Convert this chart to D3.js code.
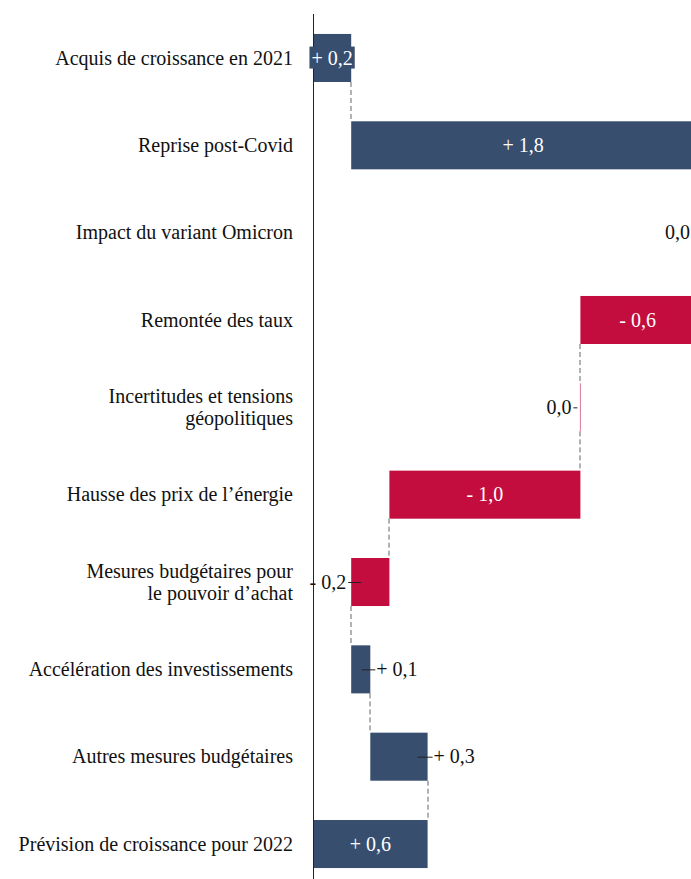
<!DOCTYPE html>
<html><head><meta charset="utf-8">
<script src="https://cdn.jsdelivr.net/npm/d3@7"></script>
<style>
html,body{margin:0;padding:0;background:#fff;}
svg{display:block;}
</style></head>
<body>
<svg id="chart" width="691" height="879"></svg>
<script>
// ---- data ----
const categories = [
  "Acquis de croissance en 2021",
  "Reprise post-Covid",
  "Impact du variant Omicron",
  "Remontée des taux",
  "Incertitudes et tensions|géopolitiques",
  "Hausse des prix de l’énergie",
  "Mesures budgétaires pour|le pouvoir d’achat",
  "Accélération des investissements",
  "Autres mesures budgétaires",
  "Prévision de croissance pour 2022"
];
const values = [0.2, 1.8, 0.0, -0.6, 0.0, -1.0, -0.2, 0.1, 0.3, 0.6];
const isTotal = [false, false, false, false, false, false, false, false, false, true];
const labelPos = ["in", "in", "end", "in", "start", "in", "start", "end", "end", "in"];

// ---- layout ----
const svg = d3.select("#chart");
const fontFam = "'Liberation Serif','DejaVu Serif',serif";
const navy = "#374e6f", red = "#c30d3e";
const fs = 20;

const x = d3.scaleLinear().domain([0, 2]).range([313, 695]);
const y = d3.scaleBand().domain(d3.range(categories.length))
  .range([14.3, 887.7]).paddingInner(0.45).paddingOuter(0.225);

// compute waterfall
let cum = 0;
const bars = values.map((v, i) => {
  let start, end;
  if (isTotal[i]) { start = 0; end = v; cum = v; }
  else { start = cum; end = cum + v; cum = end; }
  return {i, v, start, end, lo: Math.min(start, end), hi: Math.max(start, end),
          color: (isTotal[i] || v > 0) ? navy : red};
});

// connectors (behind bars)
const conn = svg.append("g");
bars.forEach((b, i) => {
  if (i === bars.length - 1) return;
  const xx = Math.round(x(b.end));
  conn.append("line")
    .attr("x1", xx).attr("x2", xx)
    .attr("y1", y(i) + y.bandwidth()).attr("y2", y(i + 1))
    .attr("stroke", "#666").attr("stroke-width", 1)
    .attr("stroke-dasharray", "5,3");
});

// bars
const bg = svg.append("g");
bars.forEach(b => {
  const w = x(b.hi) - x(b.lo);
  if (w > 0.5) {
    bg.append("rect")
      .attr("x", x(b.lo)).attr("y", y(b.i))
      .attr("width", w).attr("height", y.bandwidth())
      .attr("fill", b.color);
  } else {
    bg.append("line")
      .attr("x1", x(b.lo)).attr("x2", x(b.lo))
      .attr("y1", y(b.i)).attr("y2", y(b.i) + y.bandwidth())
      .attr("stroke", b.color).attr("stroke-opacity", 0.55).attr("stroke-width", 1);
  }
});

// axis line
svg.append("line")
  .attr("x1", x(0) + 0.5).attr("x2", x(0) + 0.5)
  .attr("y1", 14).attr("y2", 879)
  .attr("stroke", "#222").attr("stroke-width", 1);

// category labels
const lab = svg.append("g").attr("font-family", fontFam).attr("font-size", fs)
  .attr("fill", "#111").attr("text-anchor", "end");
categories.forEach((c, i) => {
  const lines = c.split("|");
  const cy = y(i) + y.bandwidth() / 2;
  const lh = 22;
  lines.forEach((ln, k) => {
    lab.append("text")
      .attr("x", 293)
      .attr("y", cy + (k - (lines.length - 1) / 2) * lh)
      .attr("dy", "0.33em")
      .text(ln);
  });
});

// value labels
function fmt(v) {
  const s = Math.abs(v).toFixed(1).replace(".", ",");
  if (v > 0) return "+ " + s;
  if (v < 0) return "- " + s;
  return s;
}
const vl = svg.append("g").attr("font-family", fontFam).attr("font-size", fs);
bars.forEach(b => {
  const cy = y(b.i) + y.bandwidth() / 2;
  const pos = labelPos[b.i];
  const x0 = x(b.lo), x1 = x(b.hi), w = x1 - x0;
  if (pos === "in") {
    const cx = (x0 + x1) / 2;
    const g = vl.append("g");
    const r = g.append("rect").attr("fill", b.color);
    const t = g.append("text").attr("x", cx).attr("y", cy).attr("dy", "0.33em")
      .attr("text-anchor", "middle").attr("fill", "#fff").text(fmt(b.v));
    const bb = t.node().getBBox();
    r.attr("x", bb.x - 2).attr("y", bb.y).attr("width", bb.width + 4).attr("height", bb.height);
  } else if (pos === "end") {
    const xe = x1;
    if (xe > 691) {
      // label kept inside the visible area
      vl.append("text").attr("x", 690).attr("y", cy).attr("dy", "0.33em")
        .attr("text-anchor", "end").attr("fill", "#111").text(fmt(b.v));
      return;
    }
    const inset = Math.min(10, w * 0.45);
    vl.append("line").attr("x1", xe - inset).attr("x2", xe + 5)
      .attr("y1", cy + 0.5).attr("y2", cy + 0.5).attr("stroke", "#222").attr("stroke-width", 1);
    vl.append("text").attr("x", xe + 6).attr("y", cy).attr("dy", "0.33em")
      .attr("text-anchor", "start").attr("fill", "#111").text(fmt(b.v));
  } else if (pos === "start") {
    const inset = Math.min(10, w * 0.3);
    const gap = w > 0.5 ? 4 : 8;
    vl.append("line").attr("x1", x0 - gap + 1).attr("x2", x0 + inset - (w > 0.5 ? 0 : 3))
      .attr("y1", cy + 0.5).attr("y2", cy + 0.5).attr("stroke", "#222").attr("stroke-width", 1);
    vl.append("text").attr("x", x0 - gap - 1).attr("y", cy).attr("dy", "0.33em")
      .attr("text-anchor", "end").attr("fill", "#111").text(fmt(b.v));
  }
});
</script>
</body></html>
